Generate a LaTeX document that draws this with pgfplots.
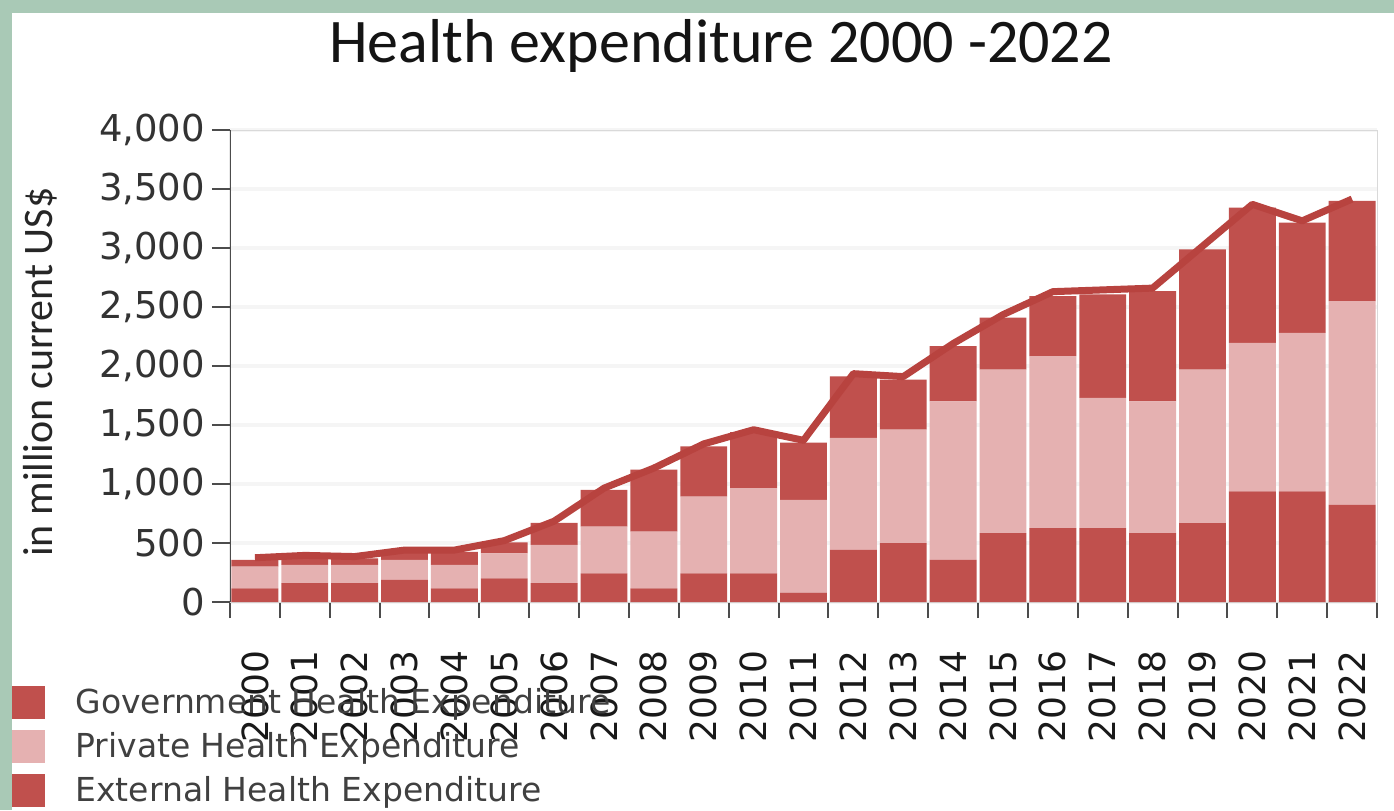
\documentclass[border=0pt]{standalone}
\usepackage{fontspec}
\usepackage{pgfplots}
\usepackage{pgfplotstable}
\pgfplotsset{compat=1.18}
\setmainfont{DejaVu Sans}
\newfontfamily\carlito{Carlito}
\definecolor{gov}{HTML}{C0504D}
\definecolor{priv}{HTML}{E5B1B1}
\definecolor{ext}{HTML}{C0504D}
\definecolor{che}{HTML}{B8433F}
\definecolor{frame}{HTML}{A9C9B6}

\pgfplotstableread{
x gov priv ext che
0 116 184 57 375
1 159 155 66 395
2 159 155 56 385
3 187 170 68 440
4 116 198 111 440
5 201 212 92 520
6 159 325 186 685
7 243 396 312 965
8 116 481 524 1135
9 243 651 425 1340
10 243 722 475 1460
11 79 787 484 1370
12 441 949 523 1935
13 498 962 425 1910
14 357 1343 468 2190
15 583 1387 439 2435
16 626 1457 509 2630
17 626 1103 877 2645
18 583 1117 934 2660
19 668 1302 1018 3015
20 937 1259 1146 3370
21 937 1344 934 3230
22 824 1726 849 3415
}\datatable

\begin{document}
\begin{tikzpicture}
\fill[frame] (0,0) rectangle (697pt,405pt);
\fill[white] (6pt,0) rectangle (697pt,398.5pt);
\useasboundingbox (0,0) rectangle (697pt,405pt);
\node[font=\carlito\fontsize{31}{33}\selectfont, text=black!92] at (360.5pt,382pt) {Health expenditure 2000 -2022};
\node[font=\carlito\fontsize{21}{23}\selectfont, text=black!85, rotate=90] at (20pt,219pt) {in million current US\$};

\begin{axis}[
  at={(115pt,104pt)}, anchor=south west,
  scale only axis, width=573.5pt, height=236pt,
  ybar stacked, bar width=0.94,
  xmin=-0.5, xmax=22.5, ymin=0, ymax=4000,
  xtick={0,...,22},
  xticklabels={2000,2001,2002,2003,2004,2005,2006,2007,2008,2009,2010,2011,2012,2013,2014,2015,2016,2017,2018,2019,2020,2021,2022},
  minor xtick={-0.5,0.5,...,22.5},
  ytick={0,500,...,4000},
  tick pos=left,
  /pgf/number format/assume math mode=true,
  /pgf/number format/1000 sep={,},
  tick align=outside,
  major tick length=9pt,
  minor tick length=8pt,
  major x tick style={draw=none},
  minor x tick style={draw=black!70, line width=1pt},
  ytick style={draw=black!70, line width=1pt},
  yticklabel style={font=\fontsize{18.5}{20}\selectfont, text=black!80},
  xticklabel style={font=\fontsize{18}{20}\selectfont, text=black!90, rotate=90, anchor=east},
  xticklabel shift=12pt,
  ymajorgrids,
  grid style={draw=black!4, line width=2pt},
  axis line style={draw=black!15},
  legend style={at={(-0.190,-0.178)}, anchor=north west, draw=none, fill=none,
    inner sep=0pt, row sep=5.5pt, font=\fontsize{16.5}{18}\selectfont, text=black!75,
    nodes={inner sep=0pt}},
  legend cell align=left,
  legend image code/.code={\fill[#1] (0pt,-8.25pt) rectangle (16.5pt,8.25pt); \path (31.5pt,0pt);},
]
\addplot[fill=gov, draw=none] table[x=x, y=gov] {\datatable};
\addplot[fill=priv, draw=none] table[x=x, y=priv] {\datatable};
\addplot[fill=ext, draw=none] table[x=x, y=ext] {\datatable};
\legend{Government Health Expenditure, Private Health Expenditure, External Health Expenditure}
\draw[black!70, line width=1.2pt] (rel axis cs:0,0) -- (rel axis cs:0,1);
\end{axis}

\begin{axis}[
  at={(115pt,104pt)}, anchor=south west,
  scale only axis, width=573.5pt, height=236pt,
  xmin=-0.5, xmax=22.5, ymin=0, ymax=4000,
  axis lines=none, clip=false,
]
\addplot[che, line width=3.5pt, line join=round, mark=none] table[x=x, y=che] {\datatable};
\end{axis}
\end{tikzpicture}
\end{document}
